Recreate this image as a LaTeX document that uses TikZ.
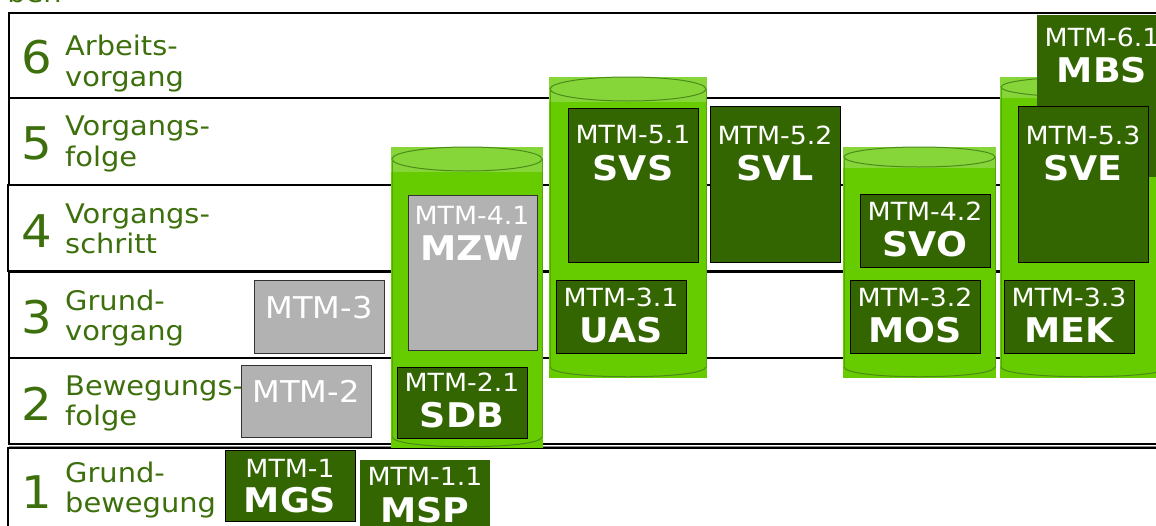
\documentclass[tikz,border=0pt]{standalone}
\usepackage{fontspec}
\setmainfont{DejaVu Sans}[FakeStretch=1.07]
\definecolor{dgreen}{HTML}{336600}
\definecolor{boxgray}{HTML}{B2B2B2}
\definecolor{cylgreen}{HTML}{66CC00}
\definecolor{cyllight}{HTML}{86D63A}
\definecolor{cylline}{HTML}{4C8A1A}
\definecolor{lblgreen}{HTML}{3D700D}
\tikzset{
  rowline/.style={draw=black, line width=1.6pt},
  lbl/.style={text=lblgreen, font=\fontsize{27}{30}\selectfont, anchor=base west, inner sep=0pt},
  num/.style={text=lblgreen, font=\fontsize{45}{50}\selectfont, anchor=base, inner sep=0pt},
  dbox/.style={draw=black, line width=1pt, fill=dgreen, anchor=north west, inner sep=0pt, minimum width=130pt},
  dboxnb/.style={fill=dgreen, anchor=north west, inner sep=0pt, minimum width=130pt},
  gbox/.style={draw=black!80, line width=1pt, fill=boxgray, anchor=north west, inner sep=0pt, minimum width=130pt},
  code/.style={text=white, font=\fontsize{25}{28}\selectfont, inner sep=0pt},
  bigcode/.style={text=white, font=\fontsize{30}{34}\selectfont, inner sep=0pt},
  mname/.style={text=white, font=\bfseries\fontsize{34}{38}\selectfont, inner sep=0pt},
}
\newcommand\mtmcyl[5]{% x1, x2, top, bottom, ry
  \pgfmathsetmacro\cxc{(#1+#2)/2}
  \pgfmathsetmacro\crx{(#2-#1)/2-1}
  \fill[cylgreen] (#1,#3) rectangle (#2,#4);
  \fill[cyllight] (#1,#3) rectangle (#2,#3+2*#5+1);
  \draw[cylline, line width=1pt] (\cxc,#3+#5) ellipse [x radius=\crx pt, y radius=#5 pt];
  \draw[cylline!60!cylgreen, line width=0.8pt] (#1+1,#3+#5) -- (#1+1,#4-11);
  \draw[cylline!60!cylgreen, line width=0.8pt] (#2-1,#3+#5) -- (#2-1,#4-11);
  \draw[cylline, line width=1pt] (#1+1,#4-11) .. controls (#1+3,#4+2) and (#2-3,#4+2) .. (#2-1,#4-11);
}
\begin{document}
\begin{tikzpicture}[x=1pt,y=-1pt]
\useasboundingbox (0,0) rectangle (1156,525);
\clip (0,0) rectangle (1156,525);
\fill[white] (0,0) rectangle (1156,525);
% partially visible heading
\node[lbl, anchor=base east] (head) at (62,2) {ben};
% rows
\draw[rowline] (9,13) rectangle (1175,98);
\draw[rowline] (9,98) rectangle (1175,185);
\draw[rowline] (8,185) rectangle (1175,271);
\draw[rowline] (9,272) rectangle (1175,358);
\draw[rowline] (9,358) rectangle (1175,444);
\draw[black!45, line width=1pt] (9,446.5) -- (1175,446.5);
\draw[rowline] (8,448) rectangle (1175,545);
% row labels
\node[num] (n6) at (37,73) {6};
\node[lbl] (l6a) at (65,55) {Arbeits-};
\node[lbl] (l6b) at (65,86) {vorgang};
\node[num] (n5) at (37,159) {5};
\node[lbl] (l5a) at (65,135) {Vorgangs-};
\node[lbl] (l5b) at (65,166) {folge};
\node[num] (n4) at (37,247) {4};
\node[lbl] (l4a) at (65,223) {Vorgangs-};
\node[lbl] (l4b) at (65,253) {schritt};
\node[num] (n3) at (37,333) {3};
\node[lbl] (l3a) at (65,310) {Grund-};
\node[lbl] (l3b) at (65,340) {vorgang};
\node[num] (n2) at (37,420) {2};
\node[lbl] (l2a) at (65,395) {Bewegungs-};
\node[lbl] (l2b) at (65,425) {folge};
\node[num] (n1) at (37,508) {1};
\node[lbl] (l1a) at (65,482) {Grund-};
\node[lbl] (l1b) at (65,512) {bewegung};
% left boxes
\node[gbox, minimum height=73pt] (m3) at (254,280) {};
\node[bigcode] (m3c) at (319,308) {MTM-3};
\node[gbox, minimum height=72pt] (m2) at (241,365) {};
\node[bigcode] (m2c) at (306,391) {MTM-2};
\node[dbox, minimum height=71pt] (mgs) at (225,450) {};
\node[code] (mgsc) at (290,468) {MTM-1};
\node[mname] (mgsn) at (290,500) {MGS};
\node[dboxnb, minimum height=80pt] (msp) at (360,460) {};
\node[code] (mspc) at (425,476) {MTM-1.1};
\node[mname] (mspn) at (425,510) {MSP};
% cylinders
\mtmcyl{391}{543}{147}{448}{12}
\mtmcyl{549}{707}{77}{378}{12}
\mtmcyl{843}{996}{147}{378}{10}
\mtmcyl{1000}{1170}{77}{378}{10}
% MBS behind SVE
\node[dboxnb, minimum height=162pt] (mbs) at (1037,15) {};
\node[code] (mbsc) at (1102,37) {MTM-6.1};
\node[mname] (mbsn) at (1102,70) {MBS};
% boxes in cylinder A
\node[gbox, minimum width=129pt, minimum height=155pt] (mzw) at (408,195) {};
\node[code] (mzwc) at (472,215) {MTM-4.1};
\node[mname] (mzwn) at (472,248) {MZW};
\node[dbox, minimum height=71pt] (sdb) at (397,367) {};
\node[code] (sdbc) at (462,382) {MTM-2.1};
\node[mname] (sdbn) at (462,415) {SDB};
% cylinder B
\node[dbox, minimum height=154pt] (svs) at (568,108) {};
\node[code] (svsc) at (633,135) {MTM-5.1};
\node[mname] (svsn) at (633,168) {SVS};
\node[dbox, minimum height=73pt] (uas) at (556,280) {};
\node[code] (uasc) at (621,297) {MTM-3.1};
\node[mname] (uasn) at (621,330) {UAS};
% SVL
\node[dbox, minimum height=156pt] (svl) at (710,106) {};
\node[code] (svlc) at (775,135) {MTM-5.2};
\node[mname] (svln) at (775,168) {SVL};
% cylinder C
\node[dbox, minimum height=73pt] (svo) at (860,194) {};
\node[code] (svoc) at (925,211) {MTM-4.2};
\node[mname] (svon) at (925,244) {SVO};
\node[dbox, minimum height=73pt] (mos) at (850,280) {};
\node[code] (mosc) at (915,297) {MTM-3.2};
\node[mname] (mosn) at (915,330) {MOS};
% cylinder D
\node[dbox, minimum height=156pt] (sve) at (1018,106) {};
\node[code] (svec) at (1083,135) {MTM-5.3};
\node[mname] (sven) at (1083,168) {SVE};
\node[dbox, minimum height=73pt] (mek) at (1004,280) {};
\node[code] (mekc) at (1069,297) {MTM-3.3};
\node[mname] (mekn) at (1069,330) {MEK};
\end{tikzpicture}
\end{document}
